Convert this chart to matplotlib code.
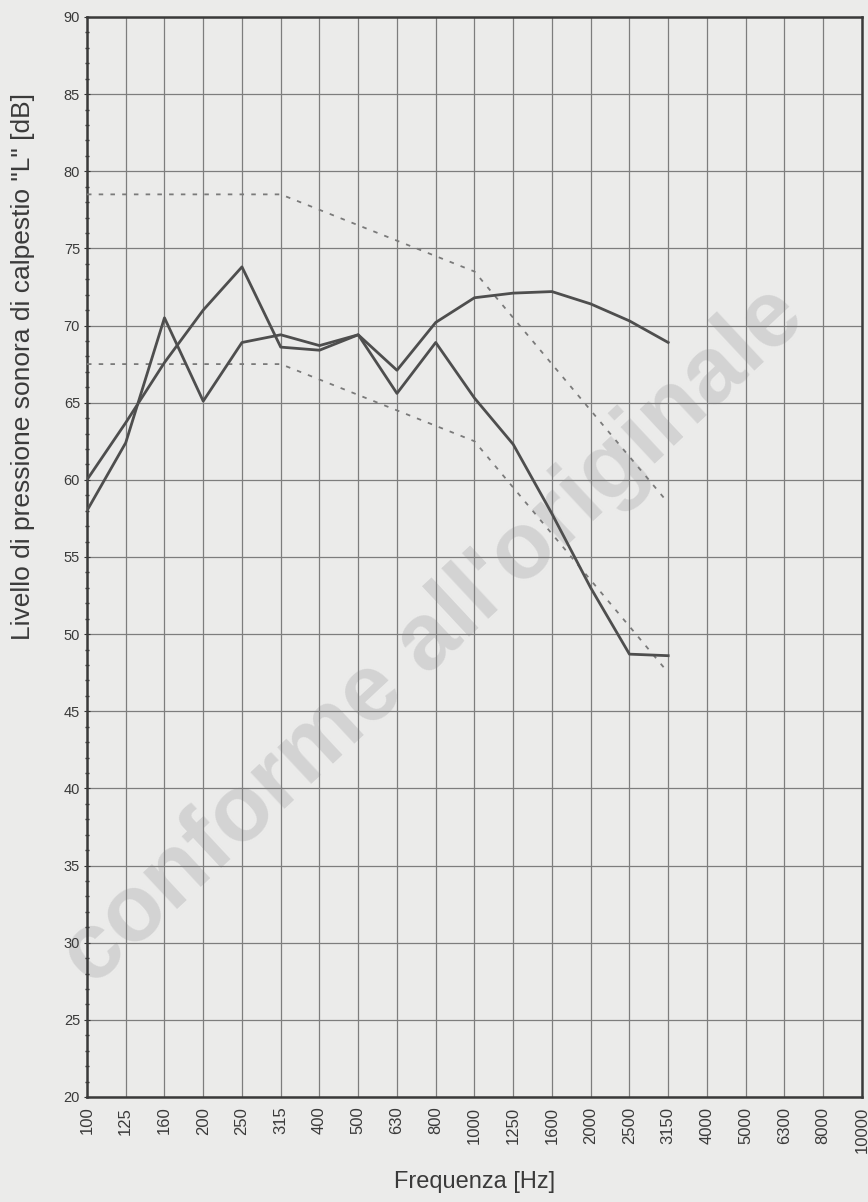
import matplotlib.pyplot as plt
from matplotlib.ticker import MultipleLocator

plt.rcParams['font.family'] = ['Liberation Sans', 'DejaVu Sans']

freqs = ["100", "125", "160", "200", "250", "315", "400", "500", "630", "800",
         "1000", "1250", "1600", "2000", "2500", "3150", "4000", "5000", "6300",
         "8000", "10000"]

# misure (16 bande, 100-3150 Hz)
meas_a = [60.0, 63.7, 67.6, 71.0, 73.8, 68.6, 68.4, 69.4, 65.6, 68.9,
          65.3, 62.3, 57.8, 53.0, 48.7, 48.6]
meas_b = [58.0, 62.4, 70.5, 65.1, 68.9, 69.4, 68.7, 69.4, 67.1, 70.2,
          71.8, 72.1, 72.2, 71.4, 70.3, 68.9]
# curve di riferimento
ref_hi = [78.5, 78.5, 78.5, 78.5, 78.5, 78.5, 77.5, 76.5, 75.5, 74.5,
          73.5, 70.5, 67.5, 64.5, 61.5, 58.5]
ref_lo = [67.5, 67.5, 67.5, 67.5, 67.5, 67.5, 66.5, 65.5, 64.5, 63.5,
          62.5, 59.5, 56.5, 53.5, 50.5, 47.5]

bg = "#ebebea"
fig = plt.figure(figsize=(8.68, 12.02), dpi=100, facecolor=bg)
ax = fig.add_axes([0.1002, 0.0874, 0.8928, 0.8985])
ax.set_facecolor(bg)

x = list(range(len(meas_a)))
ax.plot(x, ref_hi, color="#7a7a7a", lw=1.3, ls=(0, (2.5, 4)), zorder=3)
ax.plot(x, ref_lo, color="#7a7a7a", lw=1.3, ls=(0, (2.5, 4)), zorder=3)
ax.plot(x, meas_a, color="#4e4e4e", lw=2.0, zorder=4)
ax.plot(x, meas_b, color="#4e4e4e", lw=2.0, zorder=4)

ax.set_xlim(0, len(freqs) - 1)
ax.set_ylim(20, 90)
ax.set_xticks(range(len(freqs)))
ax.set_xticklabels(freqs, rotation=90, fontsize=12, color="#3a3a3a")
ax.yaxis.set_major_locator(MultipleLocator(5))
ax.yaxis.set_minor_locator(MultipleLocator(1))
ax.tick_params(axis='y', which='major', labelsize=10.5, labelcolor="#3a3a3a",
               length=4, direction='inout', color="#333333", pad=3)
ax.tick_params(axis='y', which='minor', length=3, direction='inout',
               color="#333333", width=1)
ax.tick_params(axis='x', length=0, pad=7)

ax.grid(True, which='major', color="#7d7d7d", lw=0.9, zorder=1)
for s in ax.spines.values():
    s.set_color("#3a3a3a")
    s.set_linewidth(1.8)

ax.set_xlabel("Frequenza [Hz]", fontsize=17, color="#3a3a3a", labelpad=13)
ax.set_ylabel('Livello di pressione sonora di calpestio "L" [dB]',
              fontsize=19, color="#3a3a3a")
ax.yaxis.set_label_coords(-0.067, 0.676)

# timbro di copia
ax.text(0.5, 0.47, "conforme all'originale", transform=fig.transFigure,
        fontsize=68, fontweight='bold', color="#d3d3d3", rotation=43,
        ha='center', va='center', zorder=0.5, clip_on=False)

fig.savefig("out.png", dpi=100, facecolor=bg)
